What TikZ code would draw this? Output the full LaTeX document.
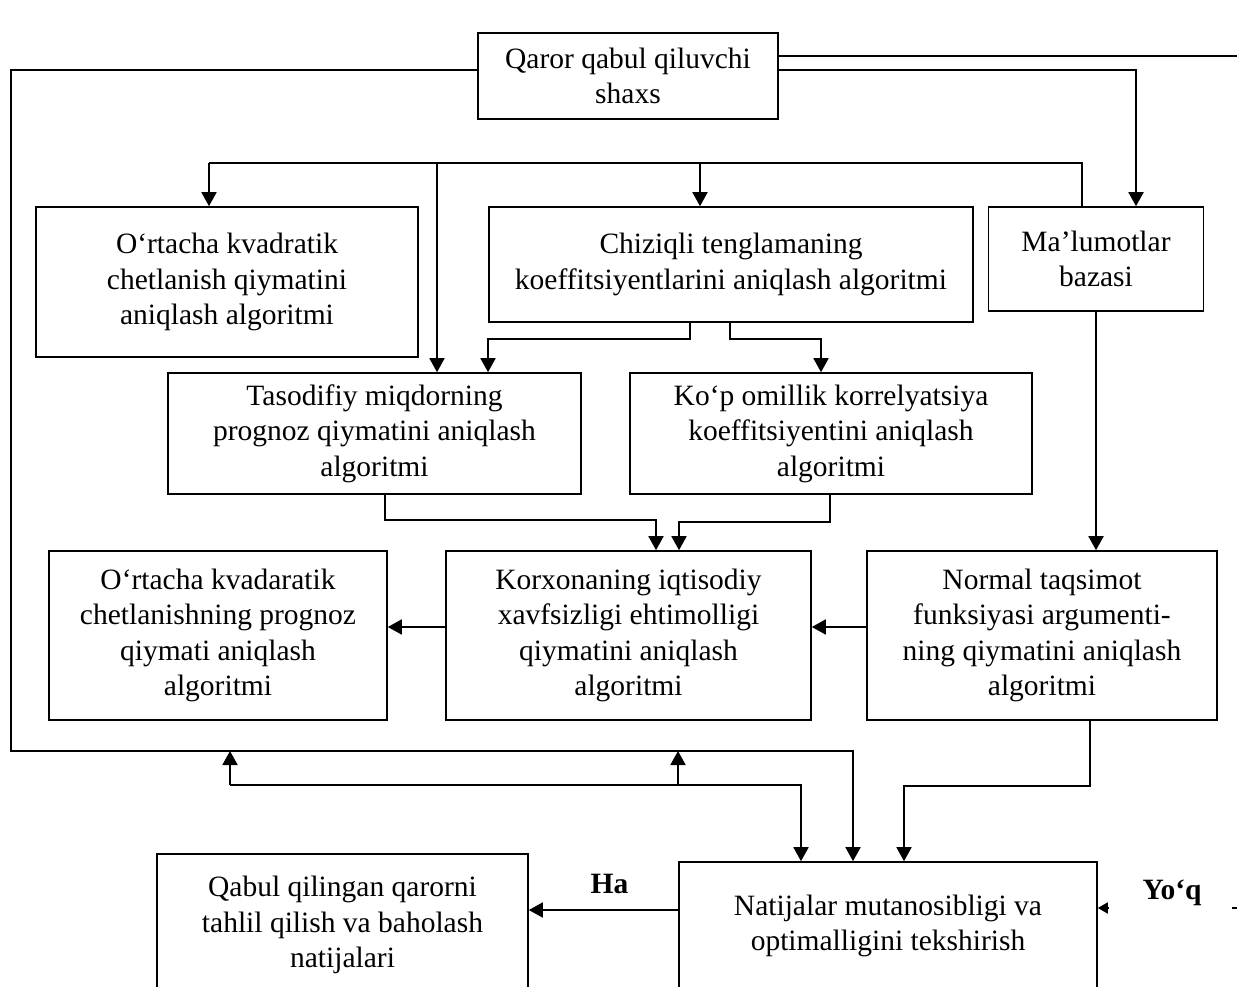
\documentclass[tikz,border=0pt]{standalone}
\usepackage{fontspec}
\setmainfont{Liberation Serif}
\usetikzlibrary{calc, arrows.meta}
\tikzstyle{blk}=[draw, line width=1.6pt, align=center, font=\fontsize{29.5}{35.5}\selectfont]
\tikzstyle{lbl}=[font=\fontsize{29.5}{35.5}\selectfont\bfseries]

\begin{document}
\begin{tikzpicture}[x=1pt,y=-1pt,line width=1.8pt,>={Triangle[length=14pt,width=15pt]}]
      \useasboundingbox (0,0) rectangle (1237,987);
      \clip (0,0) rectangle (1237,987);
      \node [blk, minimum width=300pt, minimum height=86pt] (qq) at (628,76) {Qaror qabul qiluvchi\\shaxs};
      \node [blk, minimum width=382pt, minimum height=150pt] (okv) at (227,282) {O‘rtacha kvadratik\\chetlanish qiymatini\\aniqlash algoritmi};
      \node [blk, minimum width=484pt, minimum height=115pt] (chiz) at (731,264.5) {Chiziqli tenglamaning\\koeffitsiyentlarini aniqlash algoritmi};
      \node [blk, minimum width=215pt, minimum height=104pt] (baza) at (1096,259) {Ma’lumotlar\\bazasi};
      \node [blk, minimum width=413pt, minimum height=121pt] (taso) at (374.5,433.5) {Tasodifiy miqdorning\\prognoz qiymatini aniqlash\\algoritmi};
      \node [blk, minimum width=402pt, minimum height=121pt] (kop) at (831,433.5) {Ko‘p omillik korrelyatsiya\\koeffitsiyentini aniqlash\\algoritmi};
      \node [blk, minimum width=338pt, minimum height=169pt] (okvp) at (218,635.5) {O‘rtacha kvadaratik\\chetlanishning prognoz\\qiymati aniqlash\\algoritmi};
      \node [blk, minimum width=365pt, minimum height=169pt] (korx) at (628.5,635.5) {Korxonaning iqtisodiy\\xavfsizligi ehtimolligi\\qiymatini aniqlash\\algoritmi};
      \node [blk, minimum width=350pt, minimum height=169pt] (norm) at (1042,635.5) {Normal taqsimot\\funksiyasi argumenti-\\ning qiymatini aniqlash\\algoritmi};
      \node [blk, minimum width=371pt, minimum height=142pt] (qabul) at (342.5,925) {Qabul qilingan qarorni\\tahlil qilish va baholash\\natijalari};
      \node [blk, minimum width=418pt, minimum height=128pt] (nat) at (888,926) {Natijalar mutanosibligi va\\optimalligini tekshirish};
      \node [lbl] (yoq) at (1172,893) {Yo‘q};
      \coordinate (edge) at (1237,56);
      \coordinate (b1) at (209,163);
      \coordinate (b2) at (437,163);
      \coordinate (b3) at (700,163);
      \coordinate (busl) at (11,751);
      \coordinate (r1) at (230,785);
      \coordinate (r2) at (678,785);
      \coordinate (yin) at (1109,908);
      \coordinate (dot) at (1232,908);
      \draw ([yshift=20pt]qq.east) -- (edge);
      \draw[->] ([yshift=6pt]qq.east) -| ([xshift=40pt]baza.north);
      \draw[->] ([yshift=6pt]qq.west) -| (busl) -| ([xshift=-35pt]nat.north);
      \draw ([xshift=-14pt]baza.north) |- (b1);
      \draw[->] (b1) -- (b1 |- okv.north);
      \draw[->] (b2) -- (b2 |- taso.north);
      \draw[->] (b3) -- (b3 |- chiz.north);
      \draw[->] ([xshift=-41pt]chiz.south) -- ++(0,16) -| ([xshift=113.5pt]taso.north);
      \draw[->] ([xshift=-1pt]chiz.south) -- ++(0,16) -| ([xshift=-10pt]kop.north);
      \draw[->] ([xshift=10.5pt]taso.south) -- ++(0,25) -| ([xshift=27.5pt]korx.north);
      \draw[->] ([xshift=-1pt]kop.south) -- ++(0,27) -| ([xshift=50.5pt]korx.north);
      \draw[->] (baza.south) -- (baza.south |- norm.north);
      \draw[->] ([yshift=8.5pt]norm.west) -- ([yshift=8.5pt]korx.east);
      \draw[->] ([yshift=8.5pt]korx.west) -- ([yshift=8.5pt]okvp.east);
      \draw[->] ([xshift=48pt]norm.south) -- ++(0,65) -| ([xshift=16pt]nat.north);
      \draw[->] (r1) -- (r1 |- busl);
      \draw[->] (r2) -- (r2 |- busl);
      \draw[->] (r1) -| ([xshift=-87pt]nat.north);
      \draw[->] ([yshift=16pt]nat.west) -- ([yshift=15pt]qabul.east) node (ha) [lbl, midway, above=12pt, xshift=6pt] {Ha};
      \draw[-{Triangle[length=10pt,width=11pt]}] (yin) -- (yin -| nat.east);
      \draw (dot) -- ++(5,0);
\end{tikzpicture}
\end{document}
